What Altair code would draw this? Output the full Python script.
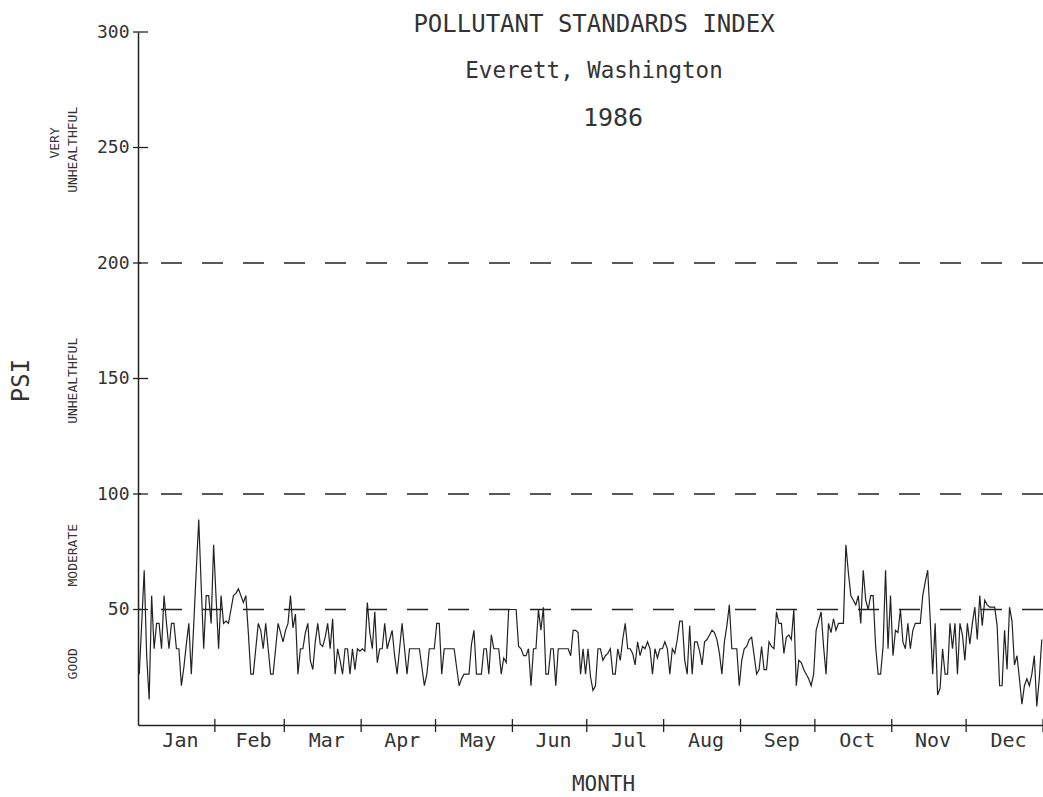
import altair as alt
import pandas as pd

# ---------------- data ----------------
months = ["Jan", "Feb", "Mar", "Apr", "May", "Jun",
          "Jul", "Aug", "Sep", "Oct", "Nov", "Dec"]
month_days = [31, 28, 31, 30, 31, 30, 31, 31, 30, 31, 30, 31]

jan = [22, 44, 67, 30, 11, 56, 33, 44, 44, 33, 56, 44, 33, 44, 44, 33, 33, 17, 25, 35,
       44, 22, 44, 67, 89, 60, 33, 56, 56, 44, 78]
feb = [55, 33, 56, 44, 45, 44, 50, 56, 57, 59, 56, 53, 56, 40, 22, 22, 33, 44, 41,
       33, 44, 33, 22, 22, 33, 44, 40, 36]
mar = [41, 44, 56, 42, 48, 22, 33, 33, 40, 44, 28, 24, 36, 44, 35, 34, 38, 44, 33, 46, 22,
       33, 28, 22, 33, 33, 22, 33, 24, 33, 32]
apr = [33, 32, 53, 40, 33, 49, 27, 33, 33, 44, 33, 37, 41, 30, 22, 33, 44, 33, 22, 33,
       33, 33, 33, 33, 25, 17, 22, 33, 33, 33]
may = [44, 44, 22, 33, 33, 33, 33, 33, 25, 17, 20, 22, 22, 22, 35, 41, 22, 22, 22, 33,
       33, 22, 39, 33, 33, 33, 22, 29, 27, 50, 50]
jun = [50, 50, 34, 33, 30, 30, 33, 17, 33, 33, 50, 41, 51, 22, 22, 33, 33, 17, 33,
       33, 33, 33, 33, 30, 41, 41, 40, 22, 33, 22]
jul = [33, 21, 15, 17, 33, 33, 28, 30, 31, 33, 22, 22, 33, 28, 37, 44, 33, 33, 31,
       26, 36, 30, 34, 33, 36, 33, 22, 33, 29, 33, 33]
aug = [36, 33, 22, 33, 31, 37, 45, 45, 28, 22, 43, 22, 36, 36, 32, 26, 36, 37,
       39, 41, 40, 37, 31, 22, 36, 43, 52, 33, 33, 33, 17]
sep = [28, 33, 34, 37, 38, 30, 22, 24, 34, 24, 24, 36, 34, 33, 49, 44, 44,
       31, 38, 39, 37, 50, 17, 28, 27, 24, 22, 20, 17, 22]
octo = [41, 45, 49, 34, 22, 44, 40, 46, 41, 44, 44, 44, 78, 66, 56, 54, 52,
        56, 44, 67, 54, 50, 56, 56, 34, 22, 22, 34, 67, 33, 56]
nov = [30, 41, 40, 50, 36, 33, 44, 33, 41, 44, 44, 44, 56, 62, 67, 46,
       22, 44, 13, 16, 33, 22, 22, 44, 33, 44, 22, 44, 39, 28]
dec = [44, 35, 44, 51, 37, 56, 43, 54, 52, 51, 51, 51, 43, 17, 17, 41,
       24, 51, 45, 26, 30, 20, 9, 17, 20, 17, 22, 30, 8, 20, 37]

y_tick_values = [50, 100, 150, 200, 250, 300]
reference_levels = [50, 100, 200]
category_labels = ["UNHEALTHFUL", "MODERATE", "GOOD"]
category_centres = [149, 73.5, 26.5]
very_labels = ["VERY", "UNHEALTHFUL"]
very_centres = [252, 249]
title_lines = ["POLLUTANT STANDARDS INDEX", "Everett, Washington", "1986"]

# ---------------- tables ----------------
psi = jan + feb + mar + apr + may + jun + jul + aug + sep + octo + nov + dec
df = pd.DataFrame({"pos": [i + 0.5 for i in range(len(psi))], "psi": psi})

bounds, mids, c = [], [], 0
for n in month_days:
    mids.append(c + n / 2)
    c += n
    bounds.append(c)
df_months = pd.DataFrame({"mid": mids, "month": months})
df_bounds = pd.DataFrame({"b": bounds})
df_yt = pd.DataFrame({"v": y_tick_values})
df_ref = pd.DataFrame({"ref": reference_levels})
df_cat = pd.DataFrame({"label": category_labels, "val": category_centres})

FONT = "DejaVu Sans Mono"
INK = "#222222"
TXT = "#333333"
W, H = 905, 693

xs = alt.Scale(domain=[0, 365], nice=False, zero=False)
ys = alt.Scale(domain=[0, 300], nice=False, zero=False)

ax_x = alt.Axis(
    title="MONTH", labels=False, ticks=False, tickSize=0, grid=False,
    domainColor=INK, domainWidth=1.5,
    titleX=465, titleY=65, titleFont=FONT, titleFontSize=21,
    titleFontWeight="normal", titleColor=TXT,
    titleBaseline="alphabetic", titleAlign="center")
ax_y = alt.Axis(
    values=y_tick_values, ticks=False, tickSize=0, grid=False,
    labelFont=FONT, labelFontSize=18, labelColor=TXT, labelPadding=9,
    domainColor=INK, domainWidth=1.5,
    title="PSI", titleX=-117, titleY=348, titleAngle=270,
    titleAlign="center", titleBaseline="middle",
    titleFont=FONT, titleFontSize=24, titleFontWeight="normal",
    titleColor=TXT)


def X(f):
    return alt.X(f, scale=xs, axis=ax_x)


def Y(f):
    return alt.Y(f, scale=ys, axis=ax_y)


line = alt.Chart(df).mark_line(color=INK, strokeWidth=1.2).encode(
    x=X("pos:Q"), y=Y("psi:Q"))

refs = alt.Chart(df_ref).mark_rule(color=INK, strokeWidth=1.3, strokeDash=[21, 20]).encode(
    y=Y("ref:Q"))

yticks = alt.Chart(df_yt).mark_rule(color=INK, strokeWidth=1.3).encode(
    y=Y("v:Q"), x=alt.value(-5), x2=alt.value(10))

xticks = alt.Chart(df_bounds).mark_rule(color=INK, strokeWidth=1.3).encode(
    x=X("b:Q"), y=alt.value(H - 6), y2=alt.value(H + 7))

mlabels = alt.Chart(df_months).mark_text(
    font=FONT, fontSize=20, color=TXT, baseline="alphabetic", align="center", dx=4
).encode(x=X("mid:Q"), y=alt.value(H + 22), text="month:N")

cats = alt.Chart(df_cat).mark_text(
    font=FONT, fontSize=13, color=TXT, angle=270, align="center", baseline="middle"
).encode(y=Y("val:Q"), x=alt.value(-65), text="label:N")

very1 = alt.Chart(pd.DataFrame({"label": [very_labels[0]], "val": [very_centres[0]]})).mark_text(
    font=FONT, fontSize=13, color=TXT, angle=270, align="center", baseline="middle"
).encode(y=Y("val:Q"), x=alt.value(-83), text="label:N")
very2 = alt.Chart(pd.DataFrame({"label": [very_labels[1]], "val": [very_centres[1]]})).mark_text(
    font=FONT, fontSize=13, color=TXT, angle=270, align="center", baseline="middle"
).encode(y=Y("val:Q"), x=alt.value(-65), text="label:N")

tdata = pd.DataFrame({"t": [0]})
t1 = alt.Chart(tdata).mark_text(text=title_lines[0], font=FONT, fontSize=24, color=TXT,
                                align="center", baseline="alphabetic").encode(
    x=alt.value(456), y=alt.value(0))
t2 = alt.Chart(tdata).mark_text(text=title_lines[1], font=FONT, fontSize=22.5, color=TXT,
                                align="center", baseline="alphabetic").encode(
    x=alt.value(456), y=alt.value(46))
t3 = alt.Chart(tdata).mark_text(text=title_lines[2], font=FONT, fontSize=25, color=TXT,
                                align="center", baseline="alphabetic").encode(
    x=alt.value(475), y=alt.value(94))

chart = alt.layer(line, refs, yticks, xticks, mlabels, cats, very1, very2, t1, t2, t3).properties(
    width=W, height=H,
    autosize=alt.AutoSizeParams(type="none"),
    padding={"left": 138, "top": 32, "right": 0, "bottom": 72},
    background="white",
).configure_view(stroke=None)

chart.save("out.html", embed_options={"renderer": "svg", "actions": False})
